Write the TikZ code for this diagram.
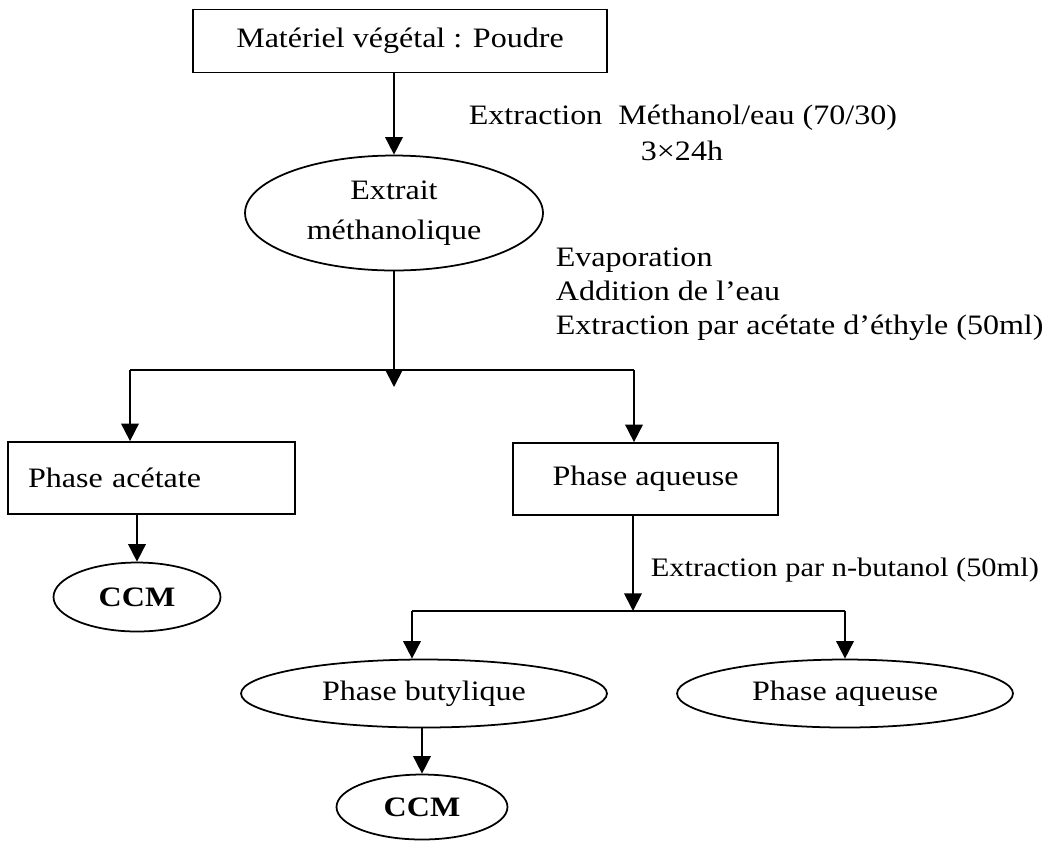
\documentclass[tikz,border=0pt]{standalone}
\usepackage{fontspec}
\setmainfont{Liberation Serif}[FakeStretch=1.14]
\usetikzlibrary{arrows.meta,shapes.geometric}
\begin{document}
\begin{tikzpicture}[x=0.02cm,y=-0.02cm,line width=1pt,
		font=\fontsize{16}{19.5}\selectfont,
		fleche/.style={-{Triangle[length=10pt,width=10pt]}},
		boite/.style={draw,rectangle,inner sep=0pt},
		bulle/.style={draw,ellipse,inner sep=0pt},
		etiq/.style={inner sep=0pt,anchor=base west}]
			\useasboundingbox (0,0) rectangle (1057,843);
			\node [boite,minimum width=8.28cm,minimum height=1.26cm] (mat) at (400,41) {Matériel végétal : Poudre};
			\node [bulle,minimum width=5.96cm,minimum height=2.3cm,align=center] (ext) at (394,213) {Extrait\\[3pt]méthanolique};
			\node [boite,minimum height=1.44cm,text width=4.94cm,inner xsep=0.4cm,align=left] (acet) at (151.5,478) {Phase acétate};
			\node [boite,minimum width=5.3cm,minimum height=1.44cm] (aq) at (645.5,479) {Phase aqueuse};
			\node [bulle,minimum width=3.34cm,minimum height=1.38cm] (ccm) at (137,597) {\bfseries CCM};
			\node [bulle,minimum width=7.32cm,minimum height=1.36cm] (but) at (424,693.5) {Phase butylique};
			\node [bulle,minimum width=6.72cm,minimum height=1.36cm] (aqb) at (845,693.5) {Phase aqueuse};
			\node [bulle,minimum width=3.42cm,minimum height=1.3cm] (ccmb) at (422,807) {\bfseries CCM};
			\node [etiq] (extr) at (468,124) {Extraction\ \ Méthanol/eau (70/30)};
			\node [etiq] (duree) at (640,160) {3×24h};
			\node [etiq] (evap) at (555,266) {Evaporation};
			\node [etiq] (addi) at (555,300) {Addition de l'eau};
			\node [etiq] (acex) at (555,334) {Extraction par acétate d'éthyle (50ml)};
			\node [etiq,font=\fontsize{15.2}{18}\selectfont] (nbut) at (650,576) {Extraction par n-butanol (50ml)};
			\coordinate (j1) at (394,387);
			\coordinate (g1) at (130,370);
			\coordinate (d1) at (634,370);
			\coordinate (j2) at (633,611);
			\coordinate (g2) at (412,611);
			\coordinate (d2) at (845,611);
			\draw [fleche] (ext.north |- mat.south) -- (ext.north);
			\draw [fleche] (ext.south) -- (j1);
			\draw (g1) -- (d1);
			\draw [fleche] (g1) -- (g1 |- acet.north);
			\draw [fleche] (d1) -- (d1 |- aq.north);
			\draw [fleche] (ccm.north |- acet.south) -- (ccm.north);
			\draw [fleche] (aq.south -| j2) -- (j2);
			\draw (g2) -- (d2);
			\draw [fleche] (g2) -- (g2 |- but.north);
			\draw [fleche] (d2) -- (d2 |- aqb.north);
			\draw [fleche] (ccmb.north |- but.south) -- (ccmb.north);
		\end{tikzpicture}
\end{document}
